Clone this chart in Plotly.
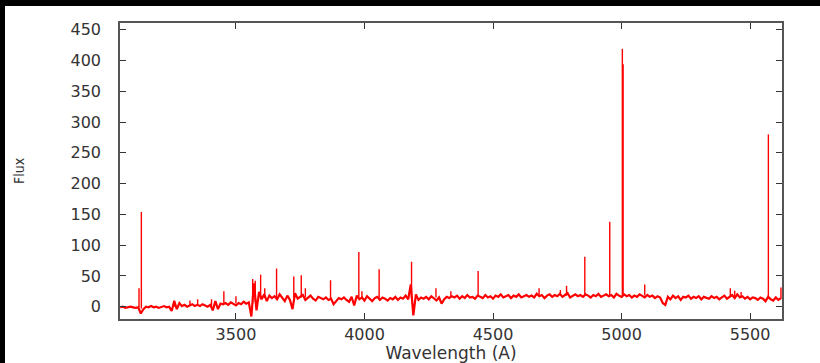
import plotly.graph_objects as go

wave_start = 3050
wave_step = 10
flux_cont = [
    -1, 0, -2, -1, 0, -1, -2, -1, -11, -4,
    0, -1, 1, -1, 0, -2, 0, 1, -1, 0,
    -7, 9, -4, 6, 1, 3, 0, 2, 4, 1,
    3, 1, 4, 2, 0, 3, -6, 9, -4, 5,
    4, 6, 3, 7, 5, 2, 6, 4, 8, 5,
    7, -16, 38, -6, 24, 12, 20, 9, 18, 14,
    17, 12, 20, 15, 9, 18, 11, -4, 22, 13,
    16, 19, 11, 15, 18, 13, 10, 16, 14, 12,
    15, 11, 13, 4, 9, 14, 12, 15, 11, 8,
    16, 2, 18, 12, 15, 10, 17, 13, 9, 14,
    16, 11, 15, 13, 10, 14, 12, 16, 11, 15,
    13, 18, 12, 36, -14, 20, 11, 15, 13, 16,
    12, 17, 14, 10, 15, 5, 12, 16, 14, 17,
    15, 18, 13, 17, 14, 19, 15, 16, 13, 18,
    16, 14, 19, 15, 17, 13, 18, 16, 20, 15,
    17, 19, 14, 18, 16, 20, 15, 17, 19, 16,
    18, 15, 21, 17, 19, 14, 18, 20, 16, 19,
    17, 21, 16, 19, 22, 15, 18, 20, 17, 19,
    16, 20, 18, 15, 19, 17, 21, 16, 18, 20,
    17, 19, 15, 21, 18, 16, 20, 17, 19, 15,
    18, 16, 20, 17, 15, 19, 16, 18, 14, 17,
    15, 6, 3, 16, 12, 18, 14, 17, 11, 16,
    15, 18, 13, 16, 14, 17, 12, 16, 15, 13,
    17, 14, 16, 12, 15, 18, 13, 16, 19, 14,
    20, 15, 17, 13, 16, 12, 15, 14, 11, 15,
    13, 9, 16, 12, 10, 15, 11, 14,
]
wave_cont = [wave_start + wave_step * i for i in range(len(flux_cont))]

# Emission lines (narrow spikes): wavelength, base flux, peak flux
line_wave = [3123, 3132, 3260, 3321, 3351, 3405, 3453, 3500, 3565, 3575,
             3596, 3612, 3658, 3725, 3754, 3770, 3868, 3978, 3990, 4057,
             4183, 4278, 4336, 4442, 4679, 4762, 4786, 4857, 4954, 5003,
             5006, 5090, 5423, 5440, 5465, 5571, 5620]
line_base = [-1, -3, 0, 2, 3, 0, 4, 5, 5, 8,
             12, 14, 15, 14, 15, 15, 13, 13, 14, 14,
             14, 15, 16, 17, 17, 18, 18, 18, 18, 18,
             18, 18, 16, 16, 15, 13, 13]
line_peak = [30, 154, 10, 10, 12, 12, 25, 17, 45, 42,
             52, 30, 62, 49, 51, 30, 43, 89, 25, 61,
             73, 30, 25, 58, 30, 27, 34, 81, 138, 419,
             394, 36, 30, 26, 24, 280, 31]

y_ticks = [0, 50, 100, 150, 200, 250, 300, 350, 400, 450]
x_ticks = [3500, 4000, 4500, 5000, 5500]

RED = "#ff0000"

fig = go.Figure()
fig.add_trace(go.Scatter(x=wave_cont, y=flux_cont, mode="lines",
                         line=dict(color=RED, width=2.2), showlegend=False,
                         hoverinfo="skip"))
sx, sy = [], []
for w, b, p in zip(line_wave, line_base, line_peak):
    sx += [w, w, None]
    sy += [b, p, None]
fig.add_trace(go.Scatter(x=sx, y=sy, mode="lines",
                         line=dict(color=RED, width=1.4), showlegend=False,
                         hoverinfo="skip"))

axis_common = dict(
    showline=True, linecolor="#555555", linewidth=1.5, mirror="allticks",
    ticks="inside", ticklen=6, tickwidth=1, tickcolor="#333333",
    showgrid=False, zeroline=False, automargin=False,
    tickfont=dict(family="DejaVu Sans", size=16, color="#333333"),
)

# The figure sits 5px from the left and 6px from the top of a black page
fig.update_layout(
    width=815, height=357, autosize=False,
    margin=dict(l=115, r=38, t=17, b=44, autoexpand=False),
    paper_bgcolor="white", plot_bgcolor="white",
    xaxis=dict(range=[3049, 5624], tickvals=x_ticks,
               title=dict(text="Wavelength (A)", standoff=5,
                          font=dict(family="DejaVu Sans", size=17, color="#333333")),
               ticklabelstandoff=0, **axis_common),
    yaxis=dict(range=[-20, 461], tickvals=y_ticks,
               title=dict(text="Flux", standoff=43,
                          font=dict(family="DejaVu Sans Condensed", size=14, color="#333333")),
               ticklabelstandoff=14, **axis_common),
)

post = (
    "document.documentElement.style.background='black';"
    "document.body.style.margin='0';document.body.style.padding='0';"
    "document.body.style.background='black';document.body.style.overflow='hidden';"
    "var d=document.getElementById('{plot_id}');"
    "d.style.position='absolute';d.style.left='5px';d.style.top='6px';"
)

fig.write_html("out.html",
               config={"displayModeBar": False, "responsive": False},
               post_script=post)
